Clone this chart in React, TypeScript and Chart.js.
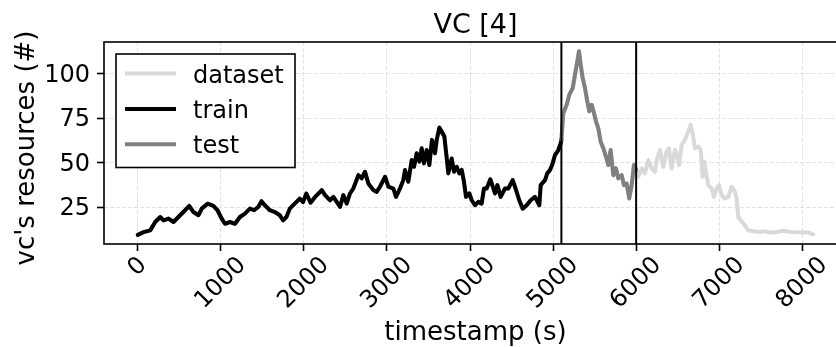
import { useEffect, useRef } from "react";
import { Chart, registerables } from "chart.js";

Chart.register(...registerables);

// VC [4] resource trace: timestamp (s) -> number of resources held by the VC
const timestamps = [
  0, 70, 150, 210, 270, 310, 370, 430, 510, 570, 620, 670, 730, 770, 840, 910, 960,
  1010, 1050, 1110, 1170, 1230, 1290, 1350, 1400, 1450, 1490, 1530, 1590, 1650, 1710,
  1750, 1790, 1830, 1890, 1950, 1990, 2030, 2080, 2130, 2215, 2255, 2315, 2355, 2395,
  2435, 2475, 2515, 2555, 2595, 2656, 2696, 2736, 2776, 2836, 2876, 2916, 2977, 3017,
  3077, 3109, 3157, 3197, 3217, 3257, 3298, 3326, 3358, 3390, 3418, 3446, 3478, 3510,
  3542, 3578, 3599, 3631, 3659, 3691, 3711, 3739, 3779, 3807, 3840, 3871, 3900, 3927,
  3952, 3992, 4020, 4060, 4100, 4140, 4168, 4200, 4245, 4301, 4329, 4369, 4421, 4461,
  4514, 4541, 4593, 4634, 4682, 4730, 4782, 4834, 4851, 4903, 4930, 4963, 4995, 5023,
  5063, 5092, 5100, 5123, 5164, 5196, 5236, 5264, 5292, 5312, 5332, 5356, 5384, 5412,
  5436, 5465, 5493, 5517, 5544, 5573, 5605, 5637, 5665, 5693, 5725, 5757, 5785, 5826,
  5853, 5886, 5917, 5946, 5974, 6000, 6026, 6066, 6106, 6146, 6187, 6227, 6247, 6287,
  6327, 6367, 6395, 6427, 6467, 6495, 6516, 6548, 6588, 6628, 6656, 6680, 6708, 6748,
  6777, 6801, 6820, 6840, 6868, 6909, 6937, 6969, 6997, 7029, 7069, 7109, 7150, 7190,
  7210, 7229, 7258, 7310, 7350, 7410, 7490, 7551, 7611, 7691, 7771, 7851, 7972, 8072,
  8132,
];

const resources = [
  9.5, 11, 12, 16.7, 19.5, 17.6, 18.6, 16.7, 20.5, 23.3, 25.7, 22.3, 20.5, 24.2, 27, 25.7, 23.3,
  18.6, 15.7, 16.7, 15.7, 19.5, 21.4, 24.2, 23.3, 25.1, 28.4, 26.1, 23.3, 22.3, 20.5,
  17.6, 19.5, 24.2, 27, 29.8, 27.9, 32.7, 27.5, 30.5, 34.6, 31.8, 28.9, 30.8, 28,
  25.2, 31.8, 27, 32.7, 35.5, 43, 41.2, 44.9, 38.3, 34.6, 33.6, 36.5, 42.1, 36.5,
  35.5, 30.8, 35.5, 40.2, 45.9, 39.3, 51.5, 47.7, 55.3, 50.6, 58.1, 49.6, 57.1, 48.7,
  62.8, 55.3, 62.8, 69.7, 67.5, 64.7, 56.2, 44, 52.4, 44.9, 47.7, 44, 45.9, 39.3,
  30.8, 32.7, 28.9, 26.1, 28, 27, 35.5, 35.5, 40.7, 32.7, 37.4, 30.8, 35.5, 35.5,
  40.2, 36.5, 28.9, 24.2, 26.1, 28.9, 30.8, 26.1, 37.4, 40.2, 44, 45.9, 49.6, 54.3,
  57.1, 60.9, 63, 77.8, 82.5, 88.2, 91.9, 99.4, 107, 112.6, 105.1, 97.6, 91.9, 84.4,
  78.8, 82.5, 77.8, 73.1, 69.4, 61.8, 58.1, 53.4, 48.7, 57.1, 43, 46.8, 41.2, 43,
  37.4, 38.3, 29.9, 37.4, 48.7, 46, 42.1, 46.8, 44, 51.5, 46.8, 44.9, 51.5, 57.1,
  47.7, 56.2, 58.1, 46.8, 57.1, 54.3, 48.7, 60, 62.8, 67.5, 71.2, 66.5, 58.1, 59.1,
  57.1, 42.1, 50.6, 44.9, 37.4, 35.5, 30.8, 35.5, 37.4, 31.8, 29.9, 30.8, 36.5, 33.6,
  29.9, 19.5, 17.7, 14.8, 12, 11.5, 11.1, 11.5, 10.8, 11.1, 11.8, 11.1, 10.9, 10.8,
  9.8,
];

// split boundaries between the train and test windows
const trainEnd = 5100;
const testEnd = 6000;

const seriesNames = ["dataset", "train", "test"];
const seriesColors = ["#d9d9d9", "#000000", "#808080"];

const xTickValues = [0, 1000, 2000, 3000, 4000, 5000, 6000, 7000, 8000];
const yTickValues = [25, 50, 75, 100];

const titleText = "VC [4]";
const xAxisTitle = "timestamp (s)";
const yAxisTitle = "vc's resources (#)";

const FONT = '"DejaVu Sans", "Liberation Sans", sans-serif';
const CANVAS_W = 852;
const CANVAS_H = 347;
const LINE_W = 4;

function padRange(values: number[]) {
  const lo = Math.min(...values);
  const hi = Math.max(...values);
  const m = (hi - lo) * 0.05;
  return { min: lo - m, max: hi + m };
}

const overlay = {
  id: "overlay",
  afterDatasetsDraw(chart: any) {
    const { ctx, chartArea: a, scales } = chart;
    const xs = scales.x;
    ctx.save();
    // split markers
    ctx.beginPath();
    ctx.rect(a.left, a.top, a.right - a.left, a.bottom - a.top);
    ctx.clip();
    ctx.strokeStyle = "#000";
    ctx.lineWidth = 2;
    [trainEnd, testEnd].forEach((v) => {
      const px = xs.getPixelForValue(v);
      ctx.beginPath();
      ctx.moveTo(px, a.top);
      ctx.lineTo(px, a.bottom);
      ctx.stroke();
    });
    ctx.restore();

    // axes frame
    ctx.save();
    ctx.strokeStyle = "#000";
    ctx.lineWidth = 1.6;
    ctx.strokeRect(a.left, a.top, a.right - a.left, a.bottom - a.top);
    ctx.restore();
  },
  afterDraw(chart: any) {
    const { ctx, chartArea: a, scales } = chart;
    const xs = scales.x;
    const cx = (a.left + a.right) / 2;
    ctx.save();
    ctx.fillStyle = "#000";

    // rotated x tick labels, centred under their ticks
    ctx.font = `24px ${FONT}`;
    ctx.textAlign = "center";
    ctx.textBaseline = "middle";
    xs.ticks.forEach((t: any) => {
      const label = String(t.value);
      const px = xs.getPixelForValue(t.value);
      const w = ctx.measureText(label).width;
      const cy = a.bottom + 17.6 + w / (2 * Math.SQRT2);
      ctx.save();
      ctx.translate(px, cy);
      ctx.rotate(-Math.PI / 4);
      ctx.fillText(label, 0, 0);
      ctx.restore();
    });

    // title
    ctx.textBaseline = "alphabetic";
    ctx.font = `27px ${FONT}`;
    ctx.fillText(titleText, cx, 32.5);

    // x axis title
    ctx.font = `26px ${FONT}`;
    ctx.fillText(xAxisTitle, cx, 340);

    // y axis title
    ctx.save();
    ctx.translate(33.5, 148);
    ctx.rotate(-Math.PI / 2);
    ctx.fillText(yAxisTitle, 0, 0);
    ctx.restore();

    // legend
    const box = { x: 116, y: 54, w: 179, h: 113.5 };
    ctx.fillStyle = "#fff";
    ctx.fillRect(box.x, box.y, box.w, box.h);
    ctx.strokeStyle = "#000";
    ctx.lineWidth = 1.6;
    ctx.strokeRect(box.x, box.y, box.w, box.h);
    ctx.font = `24px ${FONT}`;
    ctx.textAlign = "left";
    chart.data.datasets.forEach((ds: any, i: number) => {
      const rowY = 73.5 + i * 35.4;
      ctx.strokeStyle = ds.borderColor;
      ctx.lineWidth = LINE_W;
      ctx.lineCap = "butt";
      ctx.beginPath();
      ctx.moveTo(125, rowY);
      ctx.lineTo(176, rowY);
      ctx.stroke();
      ctx.fillStyle = "#000";
      ctx.fillText(ds.label, 193, rowY + 9);
    });
    ctx.restore();
  },
};

export default function App() {
  const canvasRef = useRef<HTMLCanvasElement | null>(null);

  useEffect(() => {
    const canvas = canvasRef.current;
    if (!canvas) return;

    const points = timestamps.map((t, i) => ({ x: t, y: resources[i] }));
    const trainPts = points.filter((p) => p.x <= trainEnd);
    const testPts = points.filter((p) => p.x >= trainEnd && p.x <= testEnd);
    const seriesData = [points, trainPts, testPts];

    const xr = padRange(timestamps);
    const yr = padRange(resources);

    const gridCommon = {
      color: "#e2e2e2",
      lineWidth: 1,
      borderDash: [4, 2],
      drawTicks: true,
      tickLength: 7,
      tickColor: "#000",
      tickWidth: 1.6,
      tickBorderDash: [],
    };

    const chart = new Chart(canvas, {
      type: "scatter",
      data: {
        datasets: seriesNames.map((name, i) => ({
          label: name,
          data: seriesData[i],
          // later series are painted over earlier ones
          order: seriesNames.length - 1 - i,
          showLine: true,
          borderColor: seriesColors[i],
          backgroundColor: seriesColors[i],
          borderWidth: LINE_W,
          borderJoinStyle: "round" as const,
          borderCapStyle: "round" as const,
          pointRadius: 0,
          pointHoverRadius: 0,
          tension: 0,
        })),
      },
      options: {
        responsive: false,
        animation: false,
        devicePixelRatio: 1,
        layout: { padding: { top: 42, right: 5, left: 0, bottom: 0 } },
        plugins: {
          legend: { display: false },
          title: { display: false },
          tooltip: { enabled: false },
        },
        scales: {
          x: {
            type: "linear",
            min: xr.min,
            max: xr.max,
            ticks: { display: false },
            afterBuildTicks: (s: any) => {
              s.ticks = xTickValues.map((v) => ({ value: v }));
            },
            grid: gridCommon,
            border: { display: false, dash: [4, 2] },
            afterFit: (s: any) => {
              s.height = 103;
            },
          },
          y: {
            type: "linear",
            min: yr.min,
            max: yr.max,
            afterBuildTicks: (s: any) => {
              s.ticks = yTickValues.map((v) => ({ value: v }));
            },
            ticks: {
              color: "#000",
              padding: 7,
              labelOffset: 2,
              font: { family: FONT, size: 24 },
            },
            grid: gridCommon,
            border: { display: false, dash: [4, 2] },
            afterFit: (s: any) => {
              s.width = 104;
            },
          },
        },
      },
      plugins: [overlay],
    } as any);

    return () => chart.destroy();
  }, []);

  return (
    <div
      style={{
        position: "fixed",
        left: 0,
        top: 0,
        width: 836,
        height: 347,
        overflow: "hidden",
        background: "#fff",
      }}
    >
      <canvas
        ref={canvasRef}
        width={CANVAS_W}
        height={CANVAS_H}
        style={{ display: "block", width: CANVAS_W, height: CANVAS_H }}
      />
    </div>
  );
}
